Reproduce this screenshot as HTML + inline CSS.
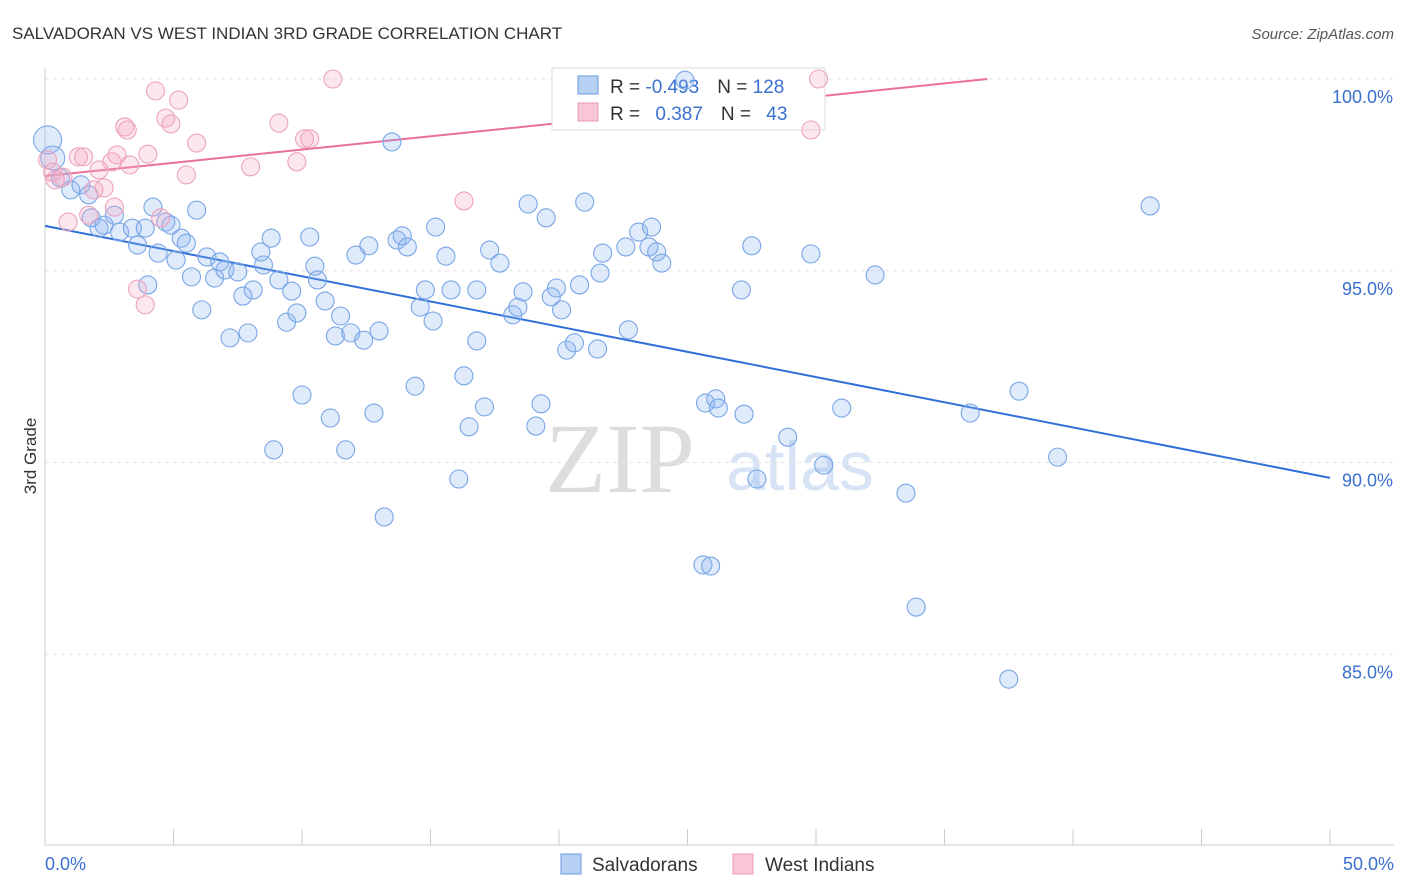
<!DOCTYPE html>
<html><head><meta charset="utf-8"><style>
body{margin:0;background:#fff;font-family:"Liberation Sans",sans-serif;}
#wrap{position:relative;width:1406px;height:892px;overflow:hidden;}
</style></head><body>
<div id="wrap">
<svg id="svg" width="1406" height="892" xmlns="http://www.w3.org/2000/svg">
<text x="12" y="39" font-size="17" fill="#333">SALVADORAN VS WEST INDIAN 3RD GRADE CORRELATION CHART</text>
<text x="1394" y="39" font-size="15" fill="#555" font-style="italic" text-anchor="end">Source: ZipAtlas.com</text>
<text x="36" y="456" font-size="17" fill="#333" transform="rotate(-90 36 456)" text-anchor="middle">3rd Grade</text>
<text x="620" y="492" font-size="100" fill="#ddd" font-family="Liberation Serif,serif" text-anchor="middle">ZIP</text>
<text x="800" y="490" font-size="70" fill="#d6e4f5" text-anchor="middle">atlas</text>
<g id="grid"></g><g id="axes"></g><g id="trends"></g>
<g>
<rect x="552" y="68" width="273" height="62" fill="#fff" stroke="#ddd"/>
<rect x="578" y="76" width="20" height="18" fill="#b7d0f3" stroke="#6a9be0"/>
<rect x="578" y="103" width="20" height="18" fill="#f9c6d6" stroke="#e899b5"/>
<text x="610" y="93" font-size="19" fill="#333">R = <tspan fill="#3a70d0">-0.493</tspan><tspan dx="18">N = </tspan><tspan fill="#3a70d0">128</tspan></text>
<text x="610" y="120" font-size="19" fill="#333">R = <tspan fill="#3a70d0" dx="10">0.387</tspan><tspan dx="18">N = </tspan><tspan fill="#3a70d0" dx="10">43</tspan></text>
</g>
<g id="pts"></g>
<g>
<rect x="561" y="854" width="20" height="20" fill="#b7d0f3" stroke="#6a9be0"/>
<text x="592" y="871" font-size="19" fill="#333">Salvadorans</text>
<rect x="733" y="854" width="20" height="20" fill="#f9c6d6" stroke="#e899b5"/>
<text x="765" y="871" font-size="19" fill="#333">West Indians</text>
</g>
</svg>
</div>
<script>
const yTicks=[100,95,90,85];
const yTickLabels=["100.0%","95.0%","90.0%","85.0%"];
const xTickVals=[0,5,10,15,20,25,30,35,40,45,50];
const blueX=[0.1,0.3,0.6,1.0,1.4,1.7,1.8,2.1,2.3,2.7,2.9,3.4,3.6,3.9,4.0,4.2,4.4,4.7,4.9,5.1,5.3,5.5,5.7,5.9,6.1,6.3,6.6,6.8,7.0,7.2,7.5,7.7,7.9,8.1,8.4,8.5,8.8,8.9,9.1,9.4,9.6,9.8,10.0,10.3,10.5,10.6,10.9,11.1,11.3,11.5,11.7,11.9,12.1,12.4,12.6,12.8,13.0,13.2,13.5,13.7,13.9,14.1,14.4,14.6,14.8,15.1,15.2,15.6,15.8,16.1,16.3,16.5,16.8,16.8,17.1,17.3,17.7,18.2,18.4,18.6,18.8,19.1,19.3,19.5,19.7,19.9,20.1,20.3,20.6,20.8,21.0,21.5,21.6,21.7,22.6,22.7,23.1,23.5,23.6,23.8,24.0,24.9,25.6,25.9,25.7,26.1,26.2,27.1,27.2,27.5,27.7,28.9,29.8,30.3,31.0,32.3,33.5,33.9,36.0,37.5,37.9,39.4,43.0];
const blueY=[98.41,97.94,97.42,97.11,97.24,96.98,96.38,96.11,96.19,96.45,96.01,96.11,95.67,96.11,94.63,96.66,95.46,96.27,96.19,95.28,95.85,95.72,94.84,96.58,93.98,95.36,94.81,95.23,95.02,93.25,94.97,94.34,93.38,94.50,95.49,95.15,95.85,90.33,94.76,93.66,94.47,93.90,91.76,95.88,95.12,94.76,94.21,91.16,93.30,93.82,90.33,93.38,95.41,93.19,95.65,91.29,93.43,88.58,98.36,95.80,95.91,95.62,91.99,94.05,94.50,93.69,96.14,95.38,94.50,89.57,92.26,90.93,94.50,93.17,91.45,95.54,95.20,93.85,94.05,94.45,96.74,90.95,91.53,96.38,94.32,94.55,93.98,92.93,93.12,94.63,96.79,92.96,94.94,95.46,95.62,93.46,96.01,95.62,96.14,95.49,95.20,99.97,87.33,87.30,91.55,91.66,91.42,94.50,91.26,95.65,89.57,90.66,95.44,89.93,91.42,94.89,89.20,86.23,91.29,84.35,91.86,90.14,96.69];
const pinkX=[0.1,0.3,0.4,0.7,0.9,1.3,1.5,1.7,1.9,2.1,2.3,2.6,2.7,2.8,3.1,3.2,3.3,3.6,3.9,4.0,4.3,4.5,4.7,4.9,5.2,5.5,5.9,8.0,9.1,9.8,10.1,10.3,11.2,16.3,29.8,30.1];
const pinkY=[97.89,97.57,97.37,97.44,96.27,97.97,97.97,96.45,97.11,97.63,97.16,97.84,96.66,98.02,98.75,98.67,97.76,94.52,94.11,98.04,99.69,96.38,98.98,98.83,99.45,97.50,98.33,97.71,98.85,97.84,98.44,98.44,100.0,96.82,98.67,100.0];
const blueTrend=[96.17,89.6];   // y at x=0 and x=50
const pinkTrend=[97.47,0.069];  // intercept, slope per %
const NS="http://www.w3.org/2000/svg";
function sx(v){return 45+v/50*1285;}
function sy(v){return 79+(100-v)*38.35;}
function mk(tag,attrs,parent){const e=document.createElementNS(NS,tag);for(const k in attrs)e.setAttribute(k,attrs[k]);document.getElementById(parent).appendChild(e);return e;}
yTicks.forEach((t,i)=>{
  const l=mk('line',{x1:45,x2:1394,y1:sy(t),y2:sy(t),stroke:'#e3e3e3','stroke-dasharray':'4,4'},'grid');
  
  
  const tx=mk('text',{x:1393,y:sy(t)+24,'font-size':18,fill:'#3a70d0','text-anchor':'end'},'grid');
  tx.textContent=yTickLabels[i];
  
  
});
mk('line',{x1:45,x2:45,y1:68,y2:845,stroke:'#ccc'},'axes');
mk('line',{x1:45,x2:1394,y1:845,y2:845,stroke:'#ccc'},'axes');
xTickVals.forEach(t=>{
  const l=mk('line',{x1:sx(t),x2:sx(t),y1:829,y2:845,stroke:'#ccc'},'axes');
  
  
});
const xl0=mk('text',{x:45,y:870,'font-size':18,fill:'#3a70d0'},'axes');xl0.textContent='0.0%';


const xl1=mk('text',{x:1394,y:870,'font-size':18,fill:'#3a70d0','text-anchor':'end'},'axes');xl1.textContent='50.0%';


blueX.forEach((x,i)=>{
  const r=i===0?14:(i===1?12:9);
  const c=mk('circle',{cx:sx(x),cy:sy(blueY[i]),r:r,fill:'rgba(140,180,240,0.28)',stroke:'#79a6e6','stroke-width':1.1},'pts');
  
  
});
pinkX.forEach((x,i)=>{
  const c=mk('circle',{cx:sx(x),cy:sy(pinkY[i]),r:9,fill:'rgba(245,170,195,0.28)',stroke:'#eca3bd','stroke-width':1.1},'pts');
  
  
});
const bl=mk('line',{x1:sx(0),y1:sy(blueTrend[0]),x2:sx(50),y2:sy(blueTrend[1]),stroke:'#2f6fd8','stroke-width':2},'trends');


let xe=Math.min(50,(100-pinkTrend[0])/pinkTrend[1]);
const pl=mk('line',{x1:sx(0),y1:sy(pinkTrend[0]),x2:sx(xe),y2:sy(pinkTrend[0]+pinkTrend[1]*xe),stroke:'#e8709a','stroke-width':2},'trends');


</script>
</body></html>
